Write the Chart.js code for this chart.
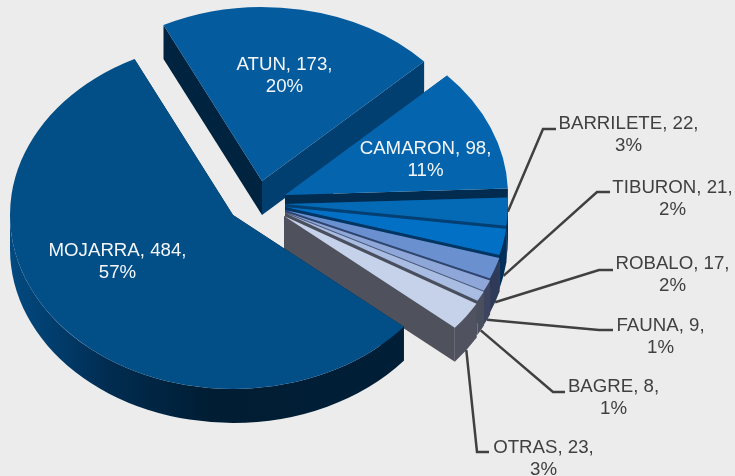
<!DOCTYPE html>
<html>
<head>
<meta charset="utf-8">
<style>
html,body{margin:0;padding:0;background:#ececec;}
canvas{display:block;}
</style>
<script src="https://cdn.jsdelivr.net/npm/chart.js@4/dist/chart.umd.min.js"></script>
</head>
<body>
<canvas id="c" width="735" height="476"></canvas>
<script>
const categories = ['MOJARRA','ATUN','CAMARON','BARRILETE','TIBURON','ROBALO','FAUNA','BAGRE','OTRAS'];
const values = [484,173,98,22,21,17,9,8,23];
const topColors = ['#024f88','#045b9e','#0465ae','#056ab6','#0271c5','#6a90cf','#8ea7d8','#a9bde3','#c5d2e9'];
const startFaceColors = ['#001f38','#00233f','#013f70','#013f70','#012b4f','#012b4f','#2e3a58','#4a4f5e','#4a4f5e'];
const endFaceColors = ['#001f38','#013f70','#012b4f','#023f72','#013564','#2f4570','#4a5a7c','#4a4f5e','#4f525c'];
const wallStops = [[['0','#024a80'],['0.12','#013a68'],['0.22','#012c50'],['0.45','#001d33'],['1','#001f38']],
  null,null,'#012f5a','#012f5a','#2e3a58','#3c4460','#4a4f5e','#50535f'];
const explodeX = [-52,-23,0,0,0,0,0,0,-1];
const explodeY = [20,-14,0,9,12,15,17,18,21];
const pieCenterX = 285, pieCenterY = 195, pieRadius = 223, tilt = 0.78, depth = 34, rotationDeg = 130;
const labelX = [117.5,284.5,425.5,628.5,672.5,672.5,660.5,613.5,543.5];
const labelY = [251,64.5,149,124,188,264,326,387,448];
const labelInside = [true,true,true,false,false,false,false,false,false];
const leaderElbowX = [0,0,0,543,597,599,599,553,477];
const leaderElbowY = [0,0,0,129,192,270,330,392,452];
const leaderEndX = [0,0,0,556,610,613,613,565,489];
const leaderDrop = [0,0,0,0,1,1,1,1,1];
const lineHeight = 22;
const fontCss = '18.67px "Liberation Sans", Arial, sans-serif';
const total = values.reduce((a,b)=>a+b,0);

function wallFill(ctx,i,left,right){
  const w = wallStops[i];
  if(typeof w==='string') return w;
  const g = ctx.createLinearGradient(left,0,right,0);
  w.forEach(s=>g.addColorStop(+s[0],s[1]));
  return g;
}
function drawSlice(ctx,arc,i){
  const cx = pieCenterX+explodeX[i], cy = pieCenterY+explodeY[i];
  const R = arc.outerRadius, ry = R*tilt;
  const a0 = arc.startAngle, a1 = arc.endAngle;
  const px = a=>cx+R*Math.cos(a), py = a=>cy+ry*Math.sin(a);
  const face = (a,color)=>{
    ctx.fillStyle = color;
    ctx.beginPath();
    ctx.moveTo(cx,cy);ctx.lineTo(px(a),py(a));ctx.lineTo(px(a),py(a)+depth);ctx.lineTo(cx,cy+depth);
    ctx.closePath();ctx.fill();
  };
  face(a0,startFaceColors[i]);
  face(a1,endFaceColors[i]);
  if(wallStops[i]){
    const s = ((a0%(2*Math.PI))+2*Math.PI)%(2*Math.PI), e = s+(a1-a0);
    [[0,Math.PI],[2*Math.PI,3*Math.PI]].forEach(([lo,hi])=>{
      const u = Math.max(s,lo), v = Math.min(e,hi);
      if(v<=u) return;
      ctx.fillStyle = wallFill(ctx,i,cx-R,cx+R);
      ctx.beginPath();
      ctx.ellipse(cx,cy,R,ry,0,u,v);
      ctx.ellipse(cx,cy+depth,R,ry,0,v,u,true);
      ctx.closePath();ctx.fill();
    });
  }
  ctx.save();
  ctx.translate(cx,cy);
  ctx.scale(1,tilt);
  ctx.translate(-arc.x,-arc.y);
  arc.draw(ctx);
  ctx.restore();
}
const pie3d = {
  id:'pie3d',
  beforeDatasetDraw(chart){
    const ctx = chart.ctx, arcs = chart.getDatasetMeta(0).data;
    [1,2,3,4,5,6,7,8,0].forEach(i=>drawSlice(ctx,arcs[i],i));
    ctx.save();
    ctx.strokeStyle = '#404040';
    ctx.lineWidth = 2.5;
    arcs.forEach((arc,i)=>{
      if(labelInside[i]) return;
      const m = (arc.startAngle+arc.endAngle)/2;
      const x = pieCenterX+explodeX[i]+arc.outerRadius*Math.cos(m);
      const y = pieCenterY+explodeY[i]+arc.outerRadius*tilt*Math.sin(m)+leaderDrop[i]*depth;
      ctx.beginPath();
      ctx.moveTo(x,y);
      ctx.lineTo(leaderElbowX[i],leaderElbowY[i]);
      ctx.lineTo(leaderEndX[i],leaderElbowY[i]);
      ctx.stroke();
    });
    ctx.font = fontCss;
    ctx.textAlign = 'center';
    ctx.textBaseline = 'middle';
    categories.forEach((name,i)=>{
      ctx.fillStyle = labelInside[i] ? '#f4f6f8' : '#404040';
      ctx.fillText(name+', '+values[i]+',',labelX[i],labelY[i]);
      ctx.fillText(Math.round(values[i]/total*100)+'%',labelX[i],labelY[i]+lineHeight);
    });
    ctx.restore();
    return false;
  }
};
new Chart(document.getElementById('c'),{
  type:'pie',
  data:{labels:categories,datasets:[{data:values,backgroundColor:topColors,borderWidth:0,radius:pieRadius}]},
  options:{
    responsive:false,
    animation:false,
    rotation:rotationDeg,
    layout:{padding:0},
    plugins:{legend:{display:false},tooltip:{enabled:false}}
  },
  plugins:[pie3d]
});
</script>
</body>
</html>
